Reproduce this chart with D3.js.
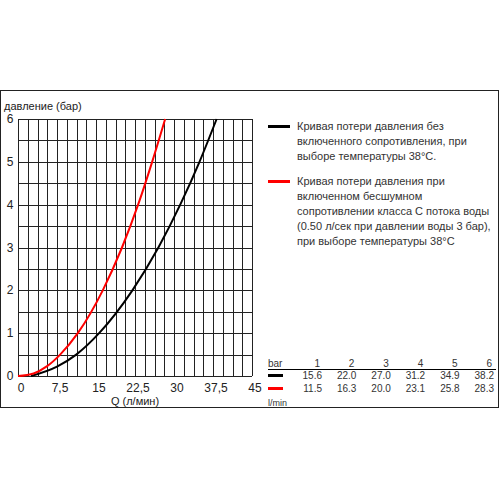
<!DOCTYPE html>
<html>
<head>
<meta charset="utf-8">
<script src="https://cdn.jsdelivr.net/npm/d3@7"></script>
<style>
  body { margin: 0; background: #fff; }
  svg { font-family: Arial, "Liberation Sans", sans-serif; }
</style>
</head>
<body>
<div id="chart"></div>
<script>
// values
const blackQ = [2.5, 7.5, 11.2, 15.6, 22.0, 27.0, 31.2, 34.9, 38.2]
const blackP = [0, 0.22, 0.5, 1, 2, 3, 4, 5, 6]
const redQ = [0, 3, 5.6, 8.1, 11.5, 16.3, 20.0, 23.1, 25.8, 28.3]
const redP = [0, 0.06, 0.23, 0.5, 1, 2, 3, 4, 5, 6]

const xTicks = [0, 7.5, 15, 22.5, 30, 37.5, 45]
const yTicks = [0, 1, 2, 3, 4, 5, 6]

const tableBars = ["1", "2", "3", "4", "5", "6"]
const tableBlack = ["15.6", "22.0", "27.0", "31.2", "34.9", "38.2"]
const tableRed = ["11.5", "16.3", "20.0", "23.1", "25.8", "28.3"]

const legendBlack = ["Кривая потери давления без", "включенного сопротивления, при", "выборе температуры 38°C."]
const legendRed = ["Кривая потери давления при", "включенном бесшумном", "сопротивлении класса C потока воды", "(0.50 л/сек при давлении воды 3 бар),", "при выборе температуры 38°C"]

const svg = d3.select("#chart").append("svg")
	.attr("width", 500)
	.attr("height", 500)

// outer frame
svg.append("rect")
	.attr("x", 0.5).attr("y", 90.5)
	.attr("width", 498).attr("height", 317)
	.attr("fill", "none")
	.attr("stroke", "#222")

const x = d3.scaleLinear().domain([0, 45]).range([18, 252])
const y = d3.scaleLinear().domain([0, 6]).range([376, 119])

// grid: every 1.875 l/min and 0.5 bar
const g = svg.append("g")
g.selectAll("line.v")
	.data(d3.range(0, 25))
	.enter()
	.append("line")
		.attr("x1", d => Math.round(x(d * 1.875)) + 0.5)
		.attr("x2", d => Math.round(x(d * 1.875)) + 0.5)
		.attr("y1", y(0)).attr("y2", y(6))
		.attr("stroke", "#222")
g.selectAll("line.h")
	.data(d3.range(0, 13))
	.enter()
	.append("line")
		.attr("y1", d => Math.round(y(d * 0.5)) + 0.5)
		.attr("y2", d => Math.round(y(d * 0.5)) + 0.5)
		.attr("x1", x(0)).attr("x2", x(45))
		.attr("stroke", "#222")

svg.selectAll("text.xt")
	.data(xTicks)
	.enter()
	.append("text")
		.attr("x", d => x(d) + 3)
		.attr("y", 392)
		.attr("text-anchor", "middle")
		.attr("font-size", 12)
		.attr("fill", "#222")
		.text(d => String(d).replace(".", ","))

svg.selectAll("text.yt")
	.data(yTicks)
	.enter()
	.append("text")
		.attr("x", 10)
		.attr("y", d => y(d) + 4)
		.attr("text-anchor", "middle")
		.attr("font-size", 12)
		.attr("fill", "#222")
		.text(d => d)

svg.append("text")
	.attr("x", 135).attr("y", 405)
	.attr("text-anchor", "middle")
	.attr("font-size", 11)
	.attr("fill", "#222")
	.text("Q (л/мин)")

svg.append("text")
	.attr("x", 4).attr("y", 110)
	.attr("font-size", 11)
	.attr("fill", "#222")
	.text("давление (бар)")

const line = d3.line()
	.x(d => x(d[0]))
	.y(d => y(d[1]))
	.curve(d3.curveMonotoneX)

svg.append("path")
	.datum(d3.zip(blackQ, blackP))
	.attr("d", line)
	.attr("fill", "none")
	.attr("stroke", "#000")
	.attr("stroke-width", 2)

svg.append("path")
	.datum(d3.zip(redQ, redP))
	.attr("d", line)
	.attr("fill", "none")
	.attr("stroke", "#f00")
	.attr("stroke-width", 2)

// legend
function legendBlock(lines, color, top) {
	svg.append("line")
		.attr("x1", 268).attr("x2", 290)
		.attr("y1", top - 3.5).attr("y2", top - 3.5)
		.attr("stroke", color)
		.attr("stroke-width", 3)
	svg.selectAll(null)
		.data(lines)
		.enter()
		.append("text")
			.attr("x", 297)
			.attr("y", (d, i) => top + i * 15)
			.attr("font-size", 11)
			.attr("fill", "#333")
			.text(d => d)
}
legendBlock(legendBlack, "#000", 130)
legendBlock(legendRed, "#f00", 185)

// table
const colX = d3.scalePoint().domain(tableBars).range([322, 494])

svg.append("text")
	.attr("x", 268).attr("y", 367)
	.attr("font-size", 10).attr("fill", "#333")
	.text("bar")
svg.selectAll("text.tb")
	.data(tableBars)
	.enter()
	.append("text")
		.attr("x", d => colX(d) - 2)
		.attr("y", 367)
		.attr("text-anchor", "end")
		.attr("font-size", 10).attr("fill", "#333")
		.text(d => d)
svg.append("line")
	.attr("x1", 268).attr("x2", 496)
	.attr("y1", 369.5).attr("y2", 369.5)
	.attr("stroke", "#000")

function tableRow(values, color, yy) {
	svg.append("line")
		.attr("x1", 268).attr("x2", 283)
		.attr("y1", yy - 3.5).attr("y2", yy - 3.5)
		.attr("stroke", color)
		.attr("stroke-width", 3)
	svg.selectAll(null)
		.data(values)
		.enter()
		.append("text")
			.attr("x", (d, i) => colX(tableBars[i]))
			.attr("y", yy)
			.attr("text-anchor", "end")
			.attr("font-size", 10).attr("fill", "#333")
			.text(d => d)
}
tableRow(tableBlack, "#000", 379)
tableRow(tableRed, "#f00", 392)

svg.append("text")
	.attr("x", 268).attr("y", 406)
	.attr("font-size", 9).attr("fill", "#333")
	.text("l/min")
</script>
</body>
</html>
